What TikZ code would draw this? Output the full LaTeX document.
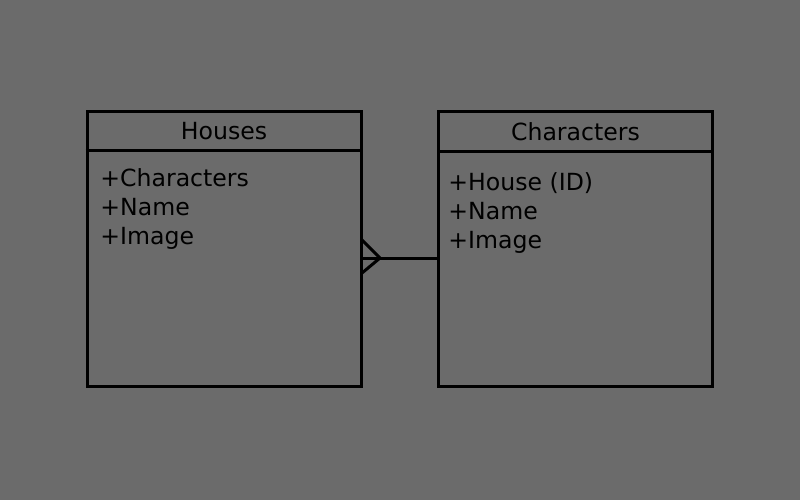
\documentclass[tikz,border=0pt]{standalone}
\usepackage{fontspec}
\setmainfont{DejaVu Sans}
\usepackage{xcolor}
\usetikzlibrary{positioning}
\definecolor{bggray}{RGB}{107,107,107}
\tikzset{
  entity/.style={draw, line width=1.5pt, minimum width=137pt, minimum height=137.5pt, inner sep=0},
  title/.style={font=\fontsize{11.8}{14.5}\selectfont},
  attrs/.style={align=left, inner sep=0, anchor=base west, font=\fontsize{11.8}{14.5}\selectfont},
  link/.style={line width=1.5pt}
}
\begin{document}
\begin{tikzpicture}[x=0.5pt,y=-0.5pt]
  \fill[bggray] (0,0) rectangle (800,500);

  \node[entity] (houses) at (224,248.5) {};
  \node[entity] (chars) at (575.5,248.5) {};

  \draw[link] ([yshift=-20.5pt]houses.north west) -- ([yshift=-20.5pt]houses.north east);
  \draw[link] ([yshift=-21pt]chars.north west) -- ([yshift=-21pt]chars.north east);

  \node[title] (htitle) at ([yshift=-11pt]houses.north) {Houses};
  \node[title] (ctitle) at ([yshift=-11pt]chars.north) {Characters};

  \node[attrs] (hattr) at (100,244.5) {+Characters\\+Name\\+Image};
  \node[attrs] (cattr) at (448,248.5) {+House (ID)\\+Name\\+Image};

  % one house -- many characters
  \coordinate (foot) at (380,258);
  \coordinate (ftop) at (362,240);
  \coordinate (fbot) at (362,273);
  \draw[link] (houses.east |- foot) -- (chars.west |- foot);
  \draw[link] (ftop) -- (foot) -- (fbot);
\end{tikzpicture}
\end{document}
